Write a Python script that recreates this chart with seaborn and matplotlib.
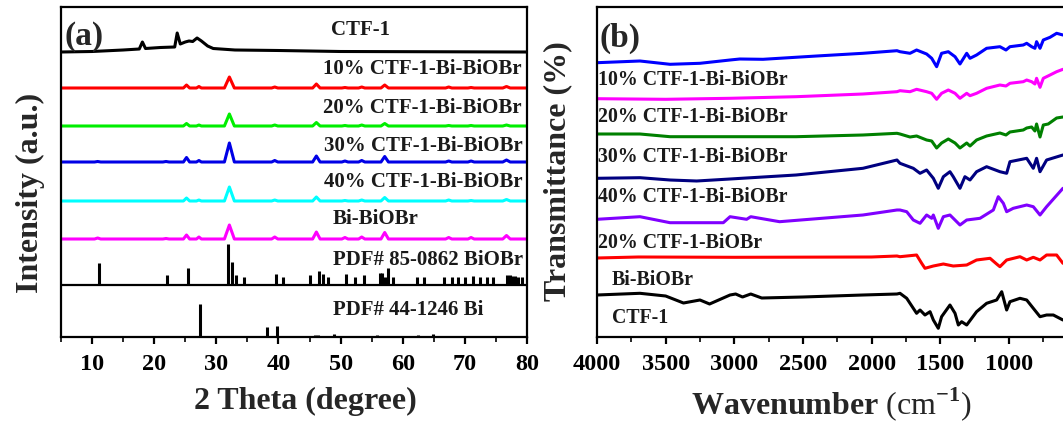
import matplotlib
matplotlib.use("Agg")
import matplotlib.pyplot as plt
from matplotlib.ticker import MultipleLocator
import pandas as pd
import seaborn as sns

# ---------------- (a) XRD patterns ----------------
two_theta_range = (5, 80)

# CTF-1 diffractogram (2-theta, intensity a.u.)
ctf_tt = [5, 10, 15, 17.6, 18.1, 18.6, 21, 23.3, 23.7, 24.2, 25.0, 25.6, 26.2,
          26.9, 27.6, 28.6, 29.5, 33, 40, 50, 80]
ctf_int = [0, 0.5, 2, 3, 10, 3.5, 4.5, 5, 19, 8, 10, 11, 10.5,
           14, 11, 6, 3.5, 2, 1.5, 0.5, 0]

# BiOBr-type reflections shared by the composite samples
peak_pos = [10.9, 21.9, 25.2, 27.2, 32.1, 39.4, 46.1, 50.7, 53.4, 57.1, 67.4, 71.0, 76.7]
peak_halfwidth = [0.5, 0.5, 0.5, 0.4, 0.8, 0.5, 0.6, 0.5, 0.5, 0.6, 0.5, 0.5, 0.6]

sample_names = ["10% CTF-1-Bi-BiOBr", "20% CTF-1-Bi-BiOBr", "30% CTF-1-Bi-BiOBr",
                "40% CTF-1-Bi-BiOBr", "Bi-BiOBr"]
sample_heights = [
    [0, 0, 3, 1.5, 11, 1, 4, 0.5, 1, 3, 1, 0.5, 1.5],
    [0, 0, 2.5, 1, 12, 1, 3.5, 0.5, 1, 2.5, 0.5, 0.5, 1],
    [0.5, 0.5, 4.5, 1.5, 19, 1.5, 6, 1, 1.5, 5.5, 1, 1, 2],
    [0, 0, 3, 1, 14, 1, 4, 0.5, 1, 3.5, 1, 0.5, 1.5],
    [1, 0.5, 4, 2, 14, 2, 7, 1.5, 2, 6.5, 1.5, 1.5, 3.5],
]
sample_colors = ["#ff0000", "#00ee00", "#0000e6", "#00ffff", "#ff00ff"]
sample_offsets = [249, 211, 175, 136, 98]
ctf_offset = 285

# Reference cards
biobr_pos = [11.1, 22.0, 25.4, 31.9, 32.5, 33.2, 34.4, 39.6, 40.8, 45.0, 46.5, 47.1,
             47.9, 50.9, 52.3, 53.7, 56.3, 56.7, 57.1, 57.6, 58.4, 62.3, 63.5, 66.6,
             67.9, 68.9, 70.0, 71.3, 72.5, 73.6, 74.6, 76.8, 77.2, 77.6, 78.1, 78.6, 79.2]
biobr_int = [21.7, 10, 16.7, 40.7, 23.3, 10, 8.3, 11, 8.3, 10, 14.3, 11,
             8.3, 11, 8.3, 10, 11.7, 12.3, 8.3, 16.7, 8.3, 8.3, 8.3, 8.3,
             8.3, 8.3, 8.3, 9, 8.3, 8.3, 8.3, 10, 10, 9, 9, 8.3, 8.3]
biobr_offset = 52

bi_pos = [22.5, 23.6, 27.3, 38.1, 39.7, 45.0, 45.9, 46.3, 48.9, 55.8, 59.6, 62.4,
          64.8, 66.9, 71.1, 76.5]
bi_int = [1.5, 1, 33, 10, 10.7, 1.5, 2, 2, 3, 2, 1, 2.5, 3, 1, 1.5, 1]
bi_offset = 0

# ---------------- (b) FTIR spectra ----------------
ftir = {
    "10% CTF-1-Bi-BiOBr": (
        [4000, 3687, 3468, 3250, 3031, 2960, 2791, 2400, 2063, 1815, 1793, 1720, 1672,
         1599, 1562, 1526, 1490, 1441, 1392, 1356, 1307, 1283, 1235, 1162, 1065, 1021,
         992, 895, 870, 834, 810, 798, 773, 749, 700, 652, 606],
        [274.3, 276, 272.7, 273.7, 277, 278, 277.7, 281, 283.7, 286.3, 285.3, 283.7, 287,
         283, 278.7, 270.3, 283.7, 285.3, 280.3, 273, 283.7, 278.7, 282, 288.7, 290.3, 287,
         290.3, 292, 293.7, 290.3, 288.7, 295.3, 288.7, 297, 299.7, 303.7, 302],
        "#0000ff"),
    "20% CTF-1-Bi-BiOBr": (
        [4000, 3500, 3031, 2550, 2063, 1815, 1793, 1720, 1672, 1599, 1562, 1526, 1490,
         1441, 1392, 1356, 1307, 1283, 1235, 1162, 1065, 1021, 992, 895, 870, 834, 810,
         798, 773, 749, 700, 652, 606],
        [238.3, 237.7, 238.7, 240.3, 243, 245.3, 246.3, 245.3, 247.7, 245.3, 243.7, 237.7,
         243.7, 247, 243.7, 238.7, 243.7, 241.3, 243.7, 248.7, 252, 251, 253.7, 255.3, 257,
         255.3, 253, 258.7, 249.7, 258.7, 262, 265.3, 267.7],
        "#ff00ff"),
    "30% CTF-1-Bi-BiOBr": (
        [4000, 3687, 3468, 3031, 2550, 2063, 1815, 1793, 1720, 1672, 1599, 1562, 1526,
         1490, 1441, 1392, 1356, 1307, 1283, 1235, 1162, 1065, 1021, 992, 895, 870, 834,
         810, 798, 773, 749, 713, 652, 606],
        [203, 203, 200.3, 200.3, 200.3, 202, 203.7, 203, 200, 201, 197, 196, 189,
         194, 198, 194, 189, 194, 191, 197, 201, 204, 202, 205, 207, 209, 210,
         206, 213, 200, 212, 213, 219, 220],
        "#008000"),
    "40% CTF-1-Bi-BiOBr": (
        [4000, 3687, 3468, 3274, 3031, 2550, 2063, 1815, 1793, 1696, 1647, 1599, 1550,
         1514, 1477, 1429, 1405, 1356, 1320, 1283, 1235, 1162, 1065, 1016, 992, 870, 822,
         798, 773, 725, 606],
        [158.7, 159.3, 157, 156, 158, 162, 168.7, 177, 173.7, 168.7, 163.7, 167, 158.7,
         148.7, 160.3, 165.3, 160.3, 148.7, 160.3, 157, 165.3, 170.3, 165.3, 163.7, 175.3,
         178.7, 168.7, 178.7, 165.3, 177, 182],
        "#000080"),
    "20% CTF-1-BiOBr": (
        [4000, 3687, 3468, 3080, 3031, 2910, 2880, 2670, 2063, 1815, 1793, 1744, 1696,
         1647, 1599, 1562, 1550, 1514, 1477, 1429, 1380, 1356, 1307, 1210, 1113, 1077,
         1040, 1016, 968, 870, 822, 773, 725, 606],
        [117.7, 120.3, 114.3, 114.3, 120.3, 117.7, 120.3, 115.3, 122, 127, 127, 125.3, 117,
         113.7, 122, 118.7, 122, 108.7, 120.3, 122, 115.3, 112, 117, 118.7, 127, 140.3,
         133.7, 125.3, 128.7, 132, 130.3, 122, 130.3, 148.7],
        "#8000ff"),
    "Bi-BiOBr": (
        [4000, 3700, 3000, 2000, 1815, 1793, 1672, 1635, 1611, 1550, 1477, 1405, 1307,
         1235, 1137, 1089, 1065, 1016, 919, 870, 822, 773, 725, 652, 606],
        [79, 80, 79.7, 80, 81, 80.3, 82, 73.7, 68.7, 71, 73, 71, 72,
         77, 78.7, 73, 70.3, 77, 80.3, 77, 79.7, 77, 82, 82, 73.7],
        "#ff0000"),
    "CTF-1": (
        [4000, 3687, 3500, 3370, 3250, 3180, 3031, 2990, 2940, 2880, 2800, 2500, 2063,
         1815, 1793, 1744, 1696, 1672, 1647, 1611, 1574, 1550, 1514, 1490, 1429, 1392,
         1368, 1344, 1307, 1235, 1162, 1089, 1052, 1016, 992, 919, 870, 822, 773, 725,
         676, 606],
        [42, 43.7, 41, 34, 37, 33, 42, 43, 40, 43, 39, 40, 42,
         43, 43.7, 38.7, 28.7, 23.7, 27, 22, 25.3, 17, 8.7, 20.3, 32, 23.7,
         12, 15.3, 12, 25.3, 33.7, 37, 45.3, 27, 35.3, 38.7, 37, 28.7, 20.3, 22,
         22, 17],
        "#000000"),
}
ftir_label_pos = {
    "10% CTF-1-Bi-BiOBr": (3993, 257),
    "20% CTF-1-Bi-BiOBr": (3993, 220),
    "30% CTF-1-Bi-BiOBr": (3993, 180),
    "40% CTF-1-Bi-BiOBr": (3993, 140),
    "20% CTF-1-BiOBr": (3993, 94),
    "Bi-BiOBr": (3890, 57),
    "CTF-1": (3890, 19),
}

# ---------------- styling ----------------
sns.set_theme(style="ticks")
plt.rcParams["font.family"] = ["Liberation Serif", "DejaVu Serif"]
plt.rcParams["font.weight"] = "bold"
plt.rcParams["mathtext.fontset"] = "custom"
plt.rcParams["mathtext.rm"] = "Liberation Serif"
plt.rcParams["mathtext.bf"] = "Liberation Serif:bold"
plt.rcParams["axes.linewidth"] = 1.6

W, H = 1063, 425
fig = plt.figure(figsize=(W / 100, H / 100), dpi=100)
ax_a = fig.add_axes([61 / W, 88 / H, 466 / W, 330 / H])
ax_b = fig.add_axes([597 / W, 88 / H, 468 / W, 330 / H])

lab_font = dict(fontsize=23, fontweight="bold")
LW = 2.2


def peak_trace(heights):
    xs, ys = [two_theta_range[0]], [0.0]
    for p, w, h in zip(peak_pos, peak_halfwidth, heights):
        xs += [p - w, p, p + w]
        ys += [0.0, h, 0.0]
    xs.append(two_theta_range[1])
    ys.append(0.0)
    return xs, ys


# (a) curves
ctf_df = pd.DataFrame({"tt": ctf_tt, "I": [v + ctf_offset for v in ctf_int]})
sns.lineplot(data=ctf_df, x="tt", y="I", ax=ax_a, color="black", lw=LW,
             sort=False, estimator=None)
for name, hts, col, off in zip(sample_names, sample_heights, sample_colors, sample_offsets):
    xs, ys = peak_trace(hts)
    df = pd.DataFrame({"tt": xs, "I": [v + off for v in ys]})
    sns.lineplot(data=df, x="tt", y="I", ax=ax_a, color=col, lw=LW,
                 sort=False, estimator=None)

ax_a.vlines(biobr_pos, biobr_offset, [biobr_offset + v for v in biobr_int],
            color="black", lw=2.2)
ax_a.vlines(bi_pos, bi_offset, [bi_offset + v for v in bi_int], color="black", lw=2.2)
ax_a.axhline(biobr_offset, color="black", lw=1.6)

label_font = dict(fontsize=15, fontweight="bold", va="center", ha="left", color="#1a1a1a")
ax_a.text(48.4, 307, "CTF-1", **label_font)
for name, x, y in zip(sample_names, [47.1, 47.1, 47.4, 47.4, 48.7], [268, 229, 191, 155, 118]):
    ax_a.text(x, y, name, **label_font)
ax_a.text(48.8, 77, "PDF# 85-0862 BiOBr", **label_font)
ax_a.text(48.8, 27, "PDF# 44-1246 Bi", **label_font)
ax_a.text(5.5, 300, "(a)", fontsize=24, fontweight="bold", va="center", ha="left")

ax_a.set_xlim(*two_theta_range)
ax_a.set_ylim(0, 330)
ax_a.set_yticks([])
ax_a.xaxis.set_major_locator(MultipleLocator(10))
ax_a.xaxis.set_minor_locator(MultipleLocator(5))
ax_a.set_xlabel("2 Theta (degree)", **lab_font)
ax_a.set_ylabel("Intensity (a.u.)", **lab_font)
ax_a.xaxis.set_label_coords(0.524, -0.15)
ax_a.yaxis.set_label_coords(-0.034, 0.436)

# (b) curves
for name, (wn, tr, col) in ftir.items():
    df = pd.DataFrame({"wn": wn, "T": tr})
    sns.lineplot(data=df, x="wn", y="T", ax=ax_b, color=col, lw=LW,
                 sort=False, estimator=None)
    lx, ly = ftir_label_pos[name]
    ax_b.text(lx, ly, name, fontsize=14.3, fontweight="bold", va="center", ha="left",
              color="#1a1a1a")
ax_b.text(3985, 299, "(b)", fontsize=24, fontweight="bold", va="center", ha="left")

ax_b.set_xlim(4000, 591)
ax_b.set_ylim(0, 330)
ax_b.set_yticks([])
ax_b.xaxis.set_major_locator(MultipleLocator(500))
ax_b.xaxis.set_minor_locator(MultipleLocator(250))
ax_b.set_xlabel(r"$\mathbf{Wavenumber}$ (cm$^{-1}$)", fontsize=23, fontweight="normal")
ax_b.set_ylabel("Transmittance (%)", **lab_font)
ax_b.xaxis.set_label_coords(0.5, -0.145)
ax_b.yaxis.set_label_coords(-0.052, 0.503)

for ax in (ax_a, ax_b):
    for sp in ax.spines.values():
        sp.set_visible(True)
        sp.set_color("black")
        sp.set_linewidth(1.6)
    ax.tick_params(axis="x", which="major", direction="out", length=5, width=1.6,
                   pad=7, labelsize=17.5, colors="black")
    ax.tick_params(axis="x", which="minor", direction="out", length=3.5, width=1.4)
    for t in ax.get_xticklabels():
        t.set_fontweight("bold")
    ax.grid(False)
    ax.set_facecolor("white")

ax_b.set_xticks([4000, 3500, 3000, 2500, 2000, 1500, 1000])
ax_b.set_xticklabels(["4000", "3500", "3000", "2500", "2000", "1500", "1000"],
                     fontweight="bold", fontsize=17.5)

fig.savefig("out.png", dpi=100, facecolor="white")
